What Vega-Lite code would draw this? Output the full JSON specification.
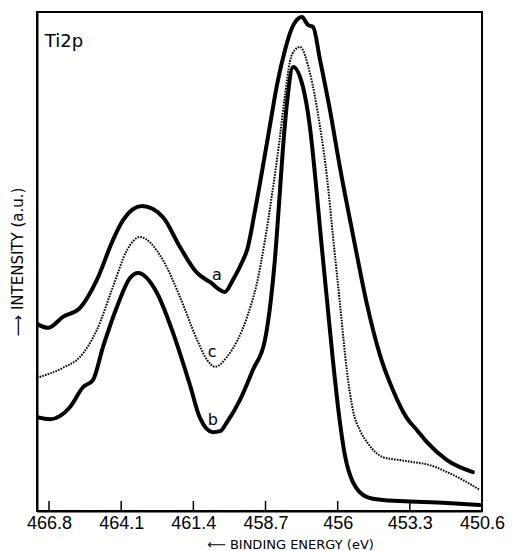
{
  "$schema": "https://vega.github.io/schema/vega-lite/v6.json",
  "width": 445,
  "height": 499,
  "autosize": "none",
  "padding": {"left": 37, "top": 12, "right": 37, "bottom": 40},
  "background": "white",
  "config": {
    "view": {"stroke": "black", "strokeWidth": 2},
    "axis": {"domainColor": "black", "domainWidth": 2, "grid": false, "tickColor": "black", "labelColor": "black", "titleColor": "black"}
  },
  "datasets": {
    "curves": [
      {"s": "a", "E": 467.25, "I": 37.5}, {"s": "a", "E": 466.84, "I": 36.7}, {"s": "a", "E": 466.28, "I": 38.9},
      {"s": "a", "E": 465.64, "I": 40.7}, {"s": "a", "E": 465.01, "I": 46.3}, {"s": "a", "E": 464.41, "I": 54.3},
      {"s": "a", "E": 464.03, "I": 58.3}, {"s": "a", "E": 463.32, "I": 61.1}, {"s": "a", "E": 462.54, "I": 58.9},
      {"s": "a", "E": 461.90, "I": 52.9}, {"s": "a", "E": 461.26, "I": 47.7}, {"s": "a", "E": 460.78, "I": 45.9},
      {"s": "a", "E": 460.22, "I": 43.9}, {"s": "a", "E": 459.92, "I": 46.3}, {"s": "a", "E": 459.54, "I": 50.3},
      {"s": "a", "E": 459.39, "I": 52.3}, {"s": "a", "E": 459.09, "I": 60.3}, {"s": "a", "E": 458.79, "I": 69.3},
      {"s": "a", "E": 458.53, "I": 77.4}, {"s": "a", "E": 458.27, "I": 85.4}, {"s": "a", "E": 457.97, "I": 92.4},
      {"s": "a", "E": 457.71, "I": 96.8}, {"s": "a", "E": 457.34, "I": 99.0}, {"s": "a", "E": 457.11, "I": 97.4},
      {"s": "a", "E": 456.92, "I": 97.0}, {"s": "a", "E": 456.66, "I": 90.4}, {"s": "a", "E": 456.29, "I": 80.4},
      {"s": "a", "E": 455.91, "I": 68.7}, {"s": "a", "E": 455.39, "I": 54.3}, {"s": "a", "E": 454.90, "I": 41.3},
      {"s": "a", "E": 454.42, "I": 31.3}, {"s": "a", "E": 453.93, "I": 24.2}, {"s": "a", "E": 453.41, "I": 18.6},
      {"s": "a", "E": 453.03, "I": 16.2}, {"s": "a", "E": 452.66, "I": 13.8}, {"s": "a", "E": 451.91, "I": 10.2},
      {"s": "a", "E": 450.94, "I": 7.8},
      {"s": "c", "E": 467.25, "I": 26.7}, {"s": "c", "E": 466.28, "I": 28.7}, {"s": "c", "E": 465.64, "I": 30.9},
      {"s": "c", "E": 465.01, "I": 36.3}, {"s": "c", "E": 464.41, "I": 44.9}, {"s": "c", "E": 463.88, "I": 52.3},
      {"s": "c", "E": 463.40, "I": 54.9}, {"s": "c", "E": 462.54, "I": 50.3}, {"s": "c", "E": 461.90, "I": 42.9},
      {"s": "c", "E": 461.26, "I": 34.3}, {"s": "c", "E": 460.89, "I": 30.3}, {"s": "c", "E": 460.59, "I": 28.9},
      {"s": "c", "E": 460.14, "I": 30.9}, {"s": "c", "E": 459.39, "I": 38.9}, {"s": "c", "E": 459.02, "I": 45.7},
      {"s": "c", "E": 458.72, "I": 54.3}, {"s": "c", "E": 458.46, "I": 63.3}, {"s": "c", "E": 458.20, "I": 73.3},
      {"s": "c", "E": 457.97, "I": 83.4}, {"s": "c", "E": 457.79, "I": 90.0}, {"s": "c", "E": 457.60, "I": 92.4},
      {"s": "c", "E": 457.41, "I": 93.0}, {"s": "c", "E": 457.04, "I": 87.8}, {"s": "c", "E": 456.66, "I": 77.0},
      {"s": "c", "E": 456.40, "I": 66.9}, {"s": "c", "E": 456.18, "I": 55.3}, {"s": "c", "E": 455.91, "I": 41.3},
      {"s": "c", "E": 455.65, "I": 27.9}, {"s": "c", "E": 455.43, "I": 20.2}, {"s": "c", "E": 455.17, "I": 16.2},
      {"s": "c", "E": 454.90, "I": 13.8}, {"s": "c", "E": 454.31, "I": 10.8}, {"s": "c", "E": 453.67, "I": 10.2},
      {"s": "c", "E": 453.18, "I": 9.8}, {"s": "c", "E": 452.55, "I": 9.2}, {"s": "c", "E": 451.91, "I": 7.8},
      {"s": "c", "E": 451.31, "I": 6.2}, {"s": "c", "E": 450.68, "I": 4.2},
      {"s": "b", "E": 467.25, "I": 18.8}, {"s": "b", "E": 466.76, "I": 18.4}, {"s": "b", "E": 466.02, "I": 20.8},
      {"s": "b", "E": 465.53, "I": 24.8}, {"s": "b", "E": 465.15, "I": 26.3}, {"s": "b", "E": 464.78, "I": 32.9},
      {"s": "b", "E": 464.26, "I": 40.9}, {"s": "b", "E": 463.77, "I": 46.7}, {"s": "b", "E": 463.47, "I": 47.7},
      {"s": "b", "E": 462.76, "I": 43.7}, {"s": "b", "E": 462.16, "I": 35.7}, {"s": "b", "E": 461.53, "I": 25.3},
      {"s": "b", "E": 461.15, "I": 18.6}, {"s": "b", "E": 460.67, "I": 15.8}, {"s": "b", "E": 460.40, "I": 16.0},
      {"s": "b", "E": 460.14, "I": 17.8}, {"s": "b", "E": 459.66, "I": 22.2}, {"s": "b", "E": 459.17, "I": 28.3},
      {"s": "b", "E": 458.72, "I": 34.3}, {"s": "b", "E": 458.50, "I": 42.3}, {"s": "b", "E": 458.35, "I": 50.3},
      {"s": "b", "E": 458.20, "I": 61.1}, {"s": "b", "E": 458.05, "I": 72.5}, {"s": "b", "E": 457.88, "I": 82.6},
      {"s": "b", "E": 457.67, "I": 89.0}, {"s": "b", "E": 457.30, "I": 85.0}, {"s": "b", "E": 457.04, "I": 77.0},
      {"s": "b", "E": 456.81, "I": 65.3}, {"s": "b", "E": 456.62, "I": 54.3}, {"s": "b", "E": 456.40, "I": 42.3},
      {"s": "b", "E": 456.18, "I": 30.3}, {"s": "b", "E": 455.95, "I": 19.2}, {"s": "b", "E": 455.73, "I": 11.2},
      {"s": "b", "E": 455.43, "I": 5.8}, {"s": "b", "E": 454.90, "I": 2.8}, {"s": "b", "E": 454.31, "I": 2.2},
      {"s": "b", "E": 453.67, "I": 2.0}, {"s": "b", "E": 451.91, "I": 1.6}, {"s": "b", "E": 450.68, "I": 1.2}
    ],
    "labels": [
      {"t": "a", "E": 460.52, "I": 47.3, "k": "curve"},
      {"t": "c", "E": 460.70, "I": 31.9, "k": "curve"},
      {"t": "b", "E": 460.67, "I": 18.2, "k": "curve"},
      {"t": "Ti2p", "E": 466.24, "I": 94.0, "k": "title"}
    ],
    "ticks": [
      {"E": 466.8}, {"E": 464.1}, {"E": 461.4}, {"E": 458.7}, {"E": 456}, {"E": 453.3}, {"E": 450.6}
    ]
  },
  "layer": [
    {
      "data": {"name": "ticks"},
      "mark": {"type": "rule", "color": "black", "strokeWidth": 1.5},
      "encoding": {
        "x": {"field": "E", "type": "quantitative"},
        "y": {"datum": 0},
        "y2": {"datum": 2}
      }
    },
    {
      "data": {"name": "curves"},
      "transform": [{"filter": "datum.s != 'c'"}],
      "mark": {"type": "line", "color": "black", "strokeWidth": 4, "interpolate": "monotone", "strokeCap": "round", "strokeJoin": "round", "clip": true},
      "encoding": {
        "x": {
          "field": "E", "type": "quantitative",
          "scale": {"domain": [467.25, 450.6], "nice": false, "zero": false},
          "axis": {
            "values": [466.8, 464.1, 461.4, 458.7, 456, 453.3, 450.6],
            "labelExpr": "datum.value == 456 ? '456' : format(datum.value, '.1f')",
            "ticks": false,
            "labelFont": "Liberation Sans", "labelFontSize": 18, "labelPadding": 3,
            "labelFlush": false, "labelOverlap": false,
            "title": "⟵  BINDING ENERGY (eV)",
            "titleFont": "DejaVu Sans", "titleFontSize": 13, "titleFontWeight": "normal",
            "titleX": 253, "titleY": 33, "titleBaseline": "middle", "titleAnchor": null, "titleAlign": "center"
          }
        },
        "y": {
          "field": "I", "type": "quantitative",
          "scale": {"domain": [0, 100], "nice": false},
          "axis": {
            "ticks": false, "labels": false,
            "title": "⟶  INTENSITY (a.u.)",
            "titleFont": "DejaVu Sans", "titleFontSize": 15, "titleFontWeight": "normal",
            "titlePadding": 12
          }
        },
        "detail": {"field": "s"}
      }
    },
    {
      "data": {"name": "curves"},
      "transform": [{"filter": "datum.s == 'c'"}],
      "mark": {"type": "line", "color": "black", "strokeWidth": 2, "strokeDash": [1.6, 1.2], "interpolate": "monotone", "clip": true},
      "encoding": {
        "x": {"field": "E", "type": "quantitative"},
        "y": {"field": "I", "type": "quantitative"}
      }
    },
    {
      "data": {"name": "labels"},
      "mark": {"type": "text", "color": "black", "fill": "black", "font": "DejaVu Sans", "baseline": "middle"},
      "encoding": {
        "x": {"field": "E", "type": "quantitative"},
        "y": {"field": "I", "type": "quantitative"},
        "text": {"field": "t"},
        "align": {"condition": {"test": "datum.k == 'title'", "value": "left"}, "value": "center"},
        "size": {"condition": {"test": "datum.k == 'title'", "value": 18}, "value": 16}
      }
    }
  ]
}
